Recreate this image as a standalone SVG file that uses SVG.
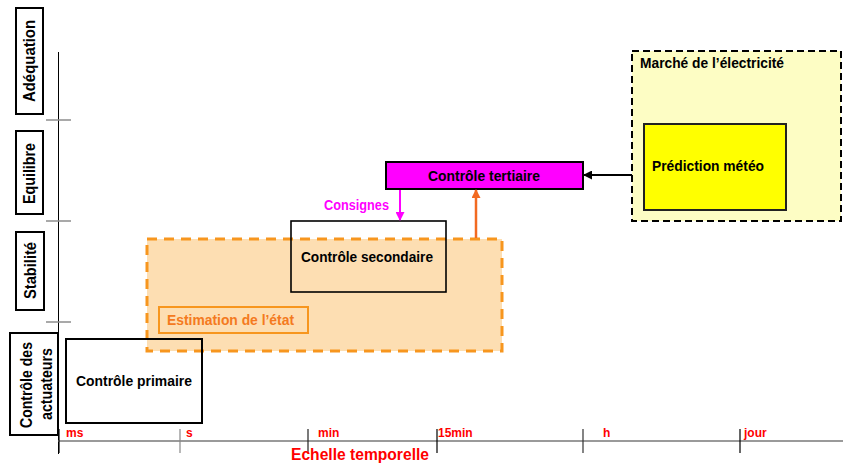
<svg xmlns="http://www.w3.org/2000/svg" width="843" height="466" viewBox="0 0 843 466">
<defs>
<style>
text{font-family:"Liberation Sans",Arial,sans-serif;font-weight:bold}
.lbl{font-size:15.5px;fill:#000}
.box{fill:none;stroke:#000;stroke-width:2}
.side{fill:#fff;stroke:#000;stroke-width:2}
.tl{font-size:12px;fill:#f00}
.vt{font-size:16px;fill:#000;text-anchor:middle}
</style>
<marker id="ahM" markerWidth="9" markerHeight="9" refX="8" refY="4.5" orient="auto" markerUnits="userSpaceOnUse"><path d="M0,0 L9,4.5 L0,9 Z" fill="#ff00ff"/></marker>
<marker id="ahO" markerWidth="9" markerHeight="9" refX="8" refY="4.5" orient="auto" markerUnits="userSpaceOnUse"><path d="M0,0 L9,4.5 L0,9 Z" fill="#f26a21"/></marker>
<marker id="ahK" markerWidth="9" markerHeight="9" refX="8" refY="4.5" orient="auto" markerUnits="userSpaceOnUse"><path d="M0,0 L9,4.5 L0,9 Z" fill="#000"/></marker>
</defs>
<rect width="843" height="466" fill="#fff"/>

<g id="axes">
<line x1="58.5" y1="52" x2="58.5" y2="454" stroke="#000" stroke-width="1"/>
<g stroke="#8c8c8c" stroke-width="1.5">
<line x1="46" y1="120" x2="71" y2="120"/>
<line x1="46" y1="221" x2="71" y2="221"/>
<line x1="46" y1="322" x2="71" y2="322"/>
</g>
<line x1="58" y1="441" x2="843" y2="441" stroke="#9a9a9a" stroke-width="2"/>
<g stroke-width="1.2">
<line x1="59" y1="429" x2="59" y2="453" stroke="#000"/>
<line x1="180" y1="429" x2="180" y2="453" stroke="#888"/>
<line x1="308" y1="429" x2="308" y2="453" stroke="#222"/>
<line x1="437" y1="429" x2="437" y2="453" stroke="#000"/>
<line x1="583" y1="429" x2="583" y2="453" stroke="#333"/>
<line x1="740" y1="429" x2="740" y2="453" stroke="#000"/>
</g>
<text class="tl" x="66" y="437">ms</text>
<text class="tl" x="186" y="437">s</text>
<text class="tl" x="318" y="437">min</text>
<text class="tl" x="438" y="437">15min</text>
<text class="tl" x="603" y="437">h</text>
<text class="tl" x="744" y="437">jour</text>
<text x="291" y="460" font-size="16.5" fill="#f00" textLength="138" lengthAdjust="spacingAndGlyphs">Echelle temporelle</text>
</g>

<g id="label-adequation">
<rect class="side" x="16" y="8" width="27" height="106"/>
<text class="vt" transform="translate(35,61) rotate(-90)" textLength="82" lengthAdjust="spacingAndGlyphs">Adéquation</text>
</g>
<g id="label-equilibre">
<rect class="side" x="16" y="131" width="27" height="83"/>
<text class="vt" transform="translate(35,173.5) rotate(-90)" textLength="61" lengthAdjust="spacingAndGlyphs">Equilibre</text>
</g>
<g id="label-stabilite">
<rect class="side" x="16" y="232" width="28" height="78"/>
<text class="vt" transform="translate(35.5,270.5) rotate(-90)" textLength="57" lengthAdjust="spacingAndGlyphs">Stabilité</text>
</g>
<g id="label-actuateurs">
<rect class="side" x="10" y="333" width="48" height="102"/>
<text class="vt" transform="translate(31.5,385) rotate(-90)" textLength="86" lengthAdjust="spacingAndGlyphs">Contrôle des</text>
<text class="vt" transform="translate(51.5,384) rotate(-90)" textLength="72" lengthAdjust="spacingAndGlyphs">actuateurs</text>
</g>

<g id="marche">
<rect x="632" y="51" width="209" height="170" fill="#fdfdc4" stroke="#000" stroke-width="2" stroke-dasharray="7 4"/>
<text class="lbl" x="640" y="68" textLength="144" lengthAdjust="spacingAndGlyphs">Marché de l’électricité</text>
</g>
<g id="prediction">
<rect x="644" y="124" width="142" height="86" fill="#ffff00" stroke="#222" stroke-width="2"/>
<text class="lbl" x="652" y="171" textLength="112" lengthAdjust="spacingAndGlyphs">Prédiction météo</text>
</g>
<g id="tertiaire">
<rect x="386" y="162" width="197" height="27" fill="#ff00ff" stroke="#000" stroke-width="2"/>
<text class="lbl" x="428" y="181" textLength="112" lengthAdjust="spacingAndGlyphs">Contrôle tertiaire</text>
</g>

<g id="estimation-zone">
<rect x="147" y="239" width="355" height="112" fill="#fddeb2" stroke="#f7961e" stroke-width="3" stroke-dasharray="10 7"/>
</g>
<g id="secondaire">
<rect x="291" y="221" width="155" height="71" fill="none" stroke="#000" stroke-width="1.6"/>
<text class="lbl" x="301" y="262" textLength="132" lengthAdjust="spacingAndGlyphs">Contrôle secondaire</text>
</g>
<g id="estimation">
<rect x="159" y="307" width="149" height="26" fill="none" stroke="#f7961e" stroke-width="2"/>
<text x="167" y="325" font-size="15" fill="#f47a20" textLength="127" lengthAdjust="spacingAndGlyphs">Estimation de l’état</text>
</g>
<g id="primaire">
<rect class="box" x="66" y="339" width="136" height="84"/>
<text class="lbl" x="76" y="386" textLength="116" lengthAdjust="spacingAndGlyphs">Contrôle primaire</text>
</g>

<g id="connectors">
<line x1="400" y1="190" x2="400" y2="220" stroke="#ff00ff" stroke-width="2" marker-end="url(#ahM)"/>
<text x="324" y="210" font-size="14.5" fill="#ff00ff" textLength="65" lengthAdjust="spacingAndGlyphs">Consignes</text>
<line x1="476" y1="238" x2="476" y2="190" stroke="#f26a21" stroke-width="2.5" marker-end="url(#ahO)"/>
<line x1="632" y1="175" x2="584" y2="175" stroke="#000" stroke-width="2" marker-end="url(#ahK)"/>
</g>
</svg>
